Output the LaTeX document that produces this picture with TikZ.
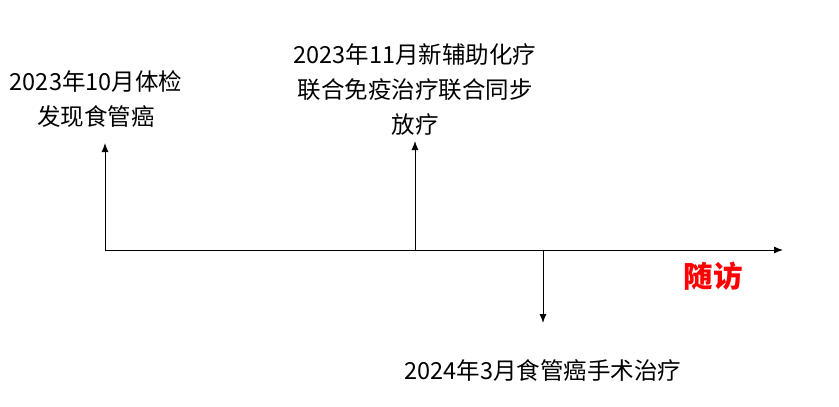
\documentclass[tikz,border=0pt]{standalone}
\usepackage{fontspec}
\usepackage{xcolor}
\usetikzlibrary{arrows.meta}
\newfontfamily\cjk{Noto Sans CJK SC}
\tikzset{
  eventtext/.style={align=center,inner sep=0pt,font=\cjk\fontsize{23.5}{35}\selectfont},
  tick/.style={line width=1pt,-{Latex[length=9pt,width=7pt]}}
}
\begin{document}
\begin{tikzpicture}[x=1pt,y=-1pt]
\useasboundingbox (0,0) rectangle (839,407);
% time axis
\coordinate (start) at (105,250);
\coordinate (stop) at (783,250);
\draw[tick] (start) -- (stop);
% events
\coordinate (chemo) at (415,250);
\coordinate (surgery) at (543,250);
\coordinate (examtip) at (105,143);
\coordinate (chemotip) at (415,141);
\coordinate (surgerytip) at (543,323);
\draw[tick] (start) -- (examtip);
\draw[tick] (chemo) -- (chemotip);
\draw[tick] (surgery) -- (surgerytip);
\node[eventtext] (exam) at (96,99) {2023年10月体检\\发现食管癌};
\node[eventtext] (therapy) at (415,90) {2023年11月新辅助化疗\\联合免疫治疗联合同步\\放疗};
\node[eventtext] (operation) at (543,370) {2024年3月食管癌手术治疗};
\node[font=\cjk\bfseries\fontsize{29.5}{32}\selectfont,text=red,inner sep=0pt] (followup) at (713,276) {随访};
\end{tikzpicture}
\end{document}
